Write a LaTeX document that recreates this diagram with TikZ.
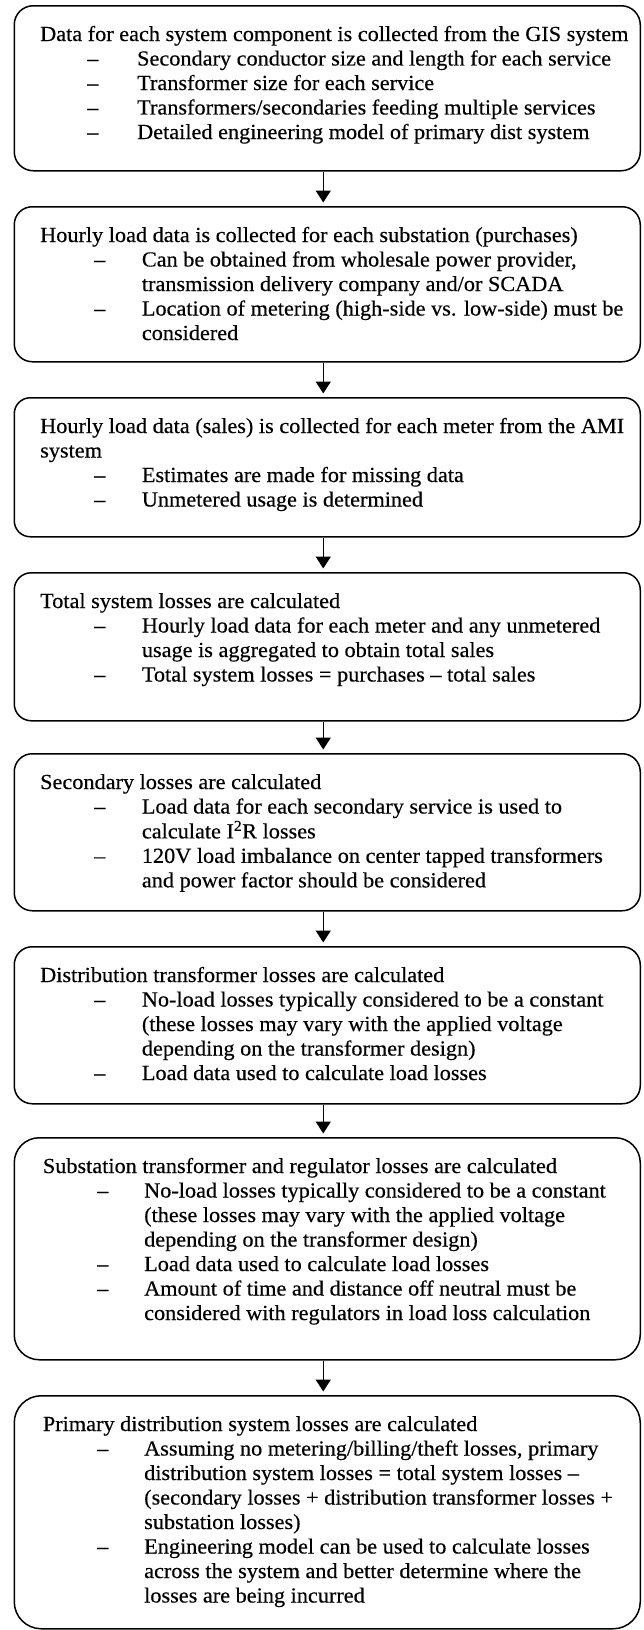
\documentclass[tikz,border=0pt]{standalone}
\usepackage{fontspec}
\setmainfont[FakeStretch=1.035,FakeBold=0.35]{Liberation Serif}
\usetikzlibrary{arrows.meta}
\newlength\dO
\newlength\tO
\newcommand{\myitem}[1]{\hspace*{\dO}\makebox[\dimexpr\tO-\dO\relax][l]{–}#1}
\newcommand{\mycont}[1]{\hspace*{\tO}#1}
\tikzset{
  box/.style={draw, line width=1.5pt, rounded corners=#1, inner sep=0pt, minimum width=626pt, anchor=north west},
  box/.default=18pt,
  txt/.style={anchor=base west, inner sep=0pt, font=\fontsize{21.5}{24.5}\selectfont},
  flow/.style={line width=1.5pt, -{Triangle[length=12pt,width=15pt]}, shorten >=3.5pt}
}
\begin{document}
\begin{tikzpicture}[x=1pt,y=1pt]
\useasboundingbox (0,0) rectangle (644,-1630);
\fill[white] (0,0) rectangle (644,-1630);

\node[box=19pt, minimum height=165pt] (b1) at (13.5,-5) {};
\node[box=18pt, minimum height=155pt] (b2) at (13.5,-206) {};
\node[box=16pt, minimum height=139pt] (b3) at (13.5,-397) {};
\node[box=17pt, minimum height=148pt] (b4) at (13.5,-572) {};
\node[box=18pt, minimum height=157pt] (b5) at (13.5,-753) {};
\node[box=18pt, minimum height=157pt] (b6) at (13.5,-946) {};
\node[box=25pt, minimum height=222pt] (b7) at (13.5,-1137) {};
\node[box=27pt, minimum height=233pt] (b8) at (13.5,-1395) {};

\setlength\dO{47pt}\setlength\tO{97pt}
\node[txt] (t1) at ([xshift=26.5pt,yshift=-36pt]b1.north west) {\begin{tabular}[t]{@{}l@{}}
Data for each system component is collected from the GIS system\\
\myitem{Secondary conductor size and length for each service}\\
\myitem{Transformer size for each service}\\
\myitem{Transformers/secondaries feeding multiple services}\\
\myitem{Detailed engineering model of primary dist system}
\end{tabular}};

\setlength\dO{54pt}\setlength\tO{101.7pt}
\node[txt] (t2) at ([xshift=26.5pt,yshift=-36pt]b2.north west) {\begin{tabular}[t]{@{}l@{}}
Hourly load data is collected for each substation (purchases)\\
\myitem{Can be obtained from wholesale power provider,}\\
\mycont{transmission delivery company and/or SCADA}\\
\myitem{Location of metering (high-side vs. low-side) must be}\\
\mycont{considered}
\end{tabular}};

\node[txt] (t3) at ([xshift=26.5pt,yshift=-36pt]b3.north west) {\begin{tabular}[t]{@{}l@{}}
Hourly load data (sales) is collected for each meter from the AMI\\
system\\
\myitem{Estimates are made for missing data}\\
\myitem{Unmetered usage is determined}
\end{tabular}};

\node[txt] (t4) at ([xshift=26.5pt,yshift=-36pt]b4.north west) {\begin{tabular}[t]{@{}l@{}}
Total system losses are calculated\\
\myitem{Hourly load data for each meter and any unmetered}\\
\mycont{usage is aggregated to obtain total sales}\\
\myitem{Total system losses = purchases – total sales}
\end{tabular}};

\node[txt] (t5) at ([xshift=26.5pt,yshift=-36pt]b5.north west) {\begin{tabular}[t]{@{}l@{}}
Secondary losses are calculated\\
\myitem{Load data for each secondary service is used to}\\
\mycont{calculate I\textsuperscript{2}R losses}\\
\myitem{120V load imbalance on center tapped transformers}\\
\mycont{and power factor should be considered}
\end{tabular}};

\node[txt] (t6) at ([xshift=26.5pt,yshift=-36pt]b6.north west) {\begin{tabular}[t]{@{}l@{}}
Distribution transformer losses are calculated\\
\myitem{No-load losses typically considered to be a constant}\\
\mycont{(these losses may vary with the applied voltage}\\
\mycont{depending on the transformer design)}\\
\myitem{Load data used to calculate load losses}
\end{tabular}};

\setlength\dO{54.3pt}\setlength\tO{101.3pt}
\node[txt] (t7) at ([xshift=29.2pt,yshift=-36pt]b7.north west) {\begin{tabular}[t]{@{}l@{}}
Substation transformer and regulator losses are calculated\\
\myitem{No-load losses typically considered to be a constant}\\
\mycont{(these losses may vary with the applied voltage}\\
\mycont{depending on the transformer design)}\\
\myitem{Load data used to calculate load losses}\\
\myitem{Amount of time and distance off neutral must be}\\
\mycont{considered with regulators in load loss calculation}
\end{tabular}};

\node[txt] (t8) at ([xshift=29.2pt,yshift=-36pt]b8.north west) {\begin{tabular}[t]{@{}l@{}}
Primary distribution system losses are calculated\\
\myitem{Assuming no metering/billing/theft losses, primary}\\
\mycont{distribution system losses = total system losses –}\\
\mycont{(secondary losses + distribution transformer losses +}\\
\mycont{substation losses)}\\
\myitem{Engineering model can be used to calculate losses}\\
\mycont{across the system and better determine where the}\\
\mycont{losses are being incurred}
\end{tabular}};

\foreach \a/\b in {b1/b2,b2/b3,b3/b4,b4/b5,b5/b6,b6/b7,b7/b8}
  \draw[flow] ([xshift=-4pt]\a.south) -- ([xshift=-4pt]\b.north);
\end{tikzpicture}
\end{document}
